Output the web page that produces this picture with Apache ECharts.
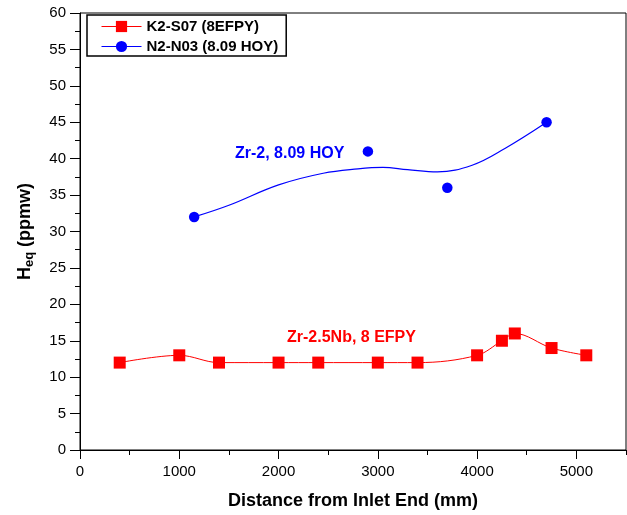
<!DOCTYPE html>
<html>
<head>
<meta charset="utf-8">
<script src="https://cdn.jsdelivr.net/npm/echarts@6/dist/echarts.min.js"></script>
<style>
html,body{margin:0;padding:0;background:#fff;}
#c{width:627px;height:515px;}
</style>
</head>
<body>
<div id="c"></div>
<script>
// Data
var redName = 'K2-S07 (8EFPY)';
var redX = [400, 1000, 1400, 2000, 2400, 3000, 3400, 4000, 4250, 4380, 4750, 5100];
var redY = [12, 13, 12, 12, 12, 12, 12, 13, 15, 16, 14, 13];

var blueName = 'N2-N03 (8.09 HOY)';
var blueX = [1150, 2900, 3700, 4700];
var blueY = [32, 41, 36, 45];

// Fitted (B-spline) curve of the blue series
var blueFitX = [1150, 1500, 2000, 2450, 2800, 3050, 3300, 3600, 3950, 4280, 4700];
var blueFitY = [32, 33.6, 36.4, 38.0, 38.6, 38.8, 38.5, 38.2, 39.1, 41.4, 45];

// Tick values
var xMajorTicks = [0, 1000, 2000, 3000, 4000, 5000];
var xMinorTicks = [500, 1500, 2500, 3500, 4500, 5500];

var xTitle = 'Distance from Inlet End (mm)';
var noteBlue = 'Zr-2, 8.09 HOY';
var noteRed = 'Zr-2.5Nb, 8 EFPY';

function pairs(xs, ys) { return xs.map(function (x, i) { return [x, ys[i]]; }); }

var FONT = 'Liberation Sans, Arial, Helvetica, sans-serif';
var chart = echarts.init(document.getElementById('c'), null, {renderer: 'canvas'});
chart.setOption({
  animation: false,
  backgroundColor: '#fff',
  grid: {left: 80, right: 1, top: 13, bottom: 64, show: true, borderColor: '#000', borderWidth: 1},
  legend: {
    left: 87, top: 15, orient: 'vertical',
    borderColor: '#000', borderWidth: 1.5,
    padding: [4, 8, 2, 14],
    itemWidth: 40, itemHeight: 14, itemGap: 5,
    lineStyle: {width: 1},
    textStyle: {fontFamily: FONT, fontWeight: 'bold', fontSize: 15, color: '#000'},
    data: [{name: redName}, {name: blueName}]
  },
  xAxis: [{
    type: 'value', min: 0, max: 5500, interval: 500,
    axisLine: {lineStyle: {color: '#000', width: 1}},
    axisTick: {inside: false, length: 9, customValues: xMajorTicks, lineStyle: {color: '#000'}},
    splitLine: {show: false},
    axisLabel: {
      color: '#000', fontFamily: FONT, fontSize: 15, margin: 14, customValues: xMajorTicks,
      formatter: function (v) { return String(v); }
    },
    name: xTitle, nameLocation: 'middle', nameGap: 42,
    nameTextStyle: {fontFamily: FONT, fontWeight: 'bold', fontSize: 18, color: '#000'}
  }, {
    type: 'value', min: 0, max: 5500, interval: 500, position: 'bottom',
    axisLine: {show: false},
    axisTick: {show: true, length: 5, customValues: xMinorTicks, lineStyle: {color: '#000'}},
    axisLabel: {show: false},
    splitLine: {show: false}
  }],
  yAxis: {
    type: 'value', min: 0, max: 60, interval: 5,
    axisLine: {show: true, lineStyle: {color: '#000', width: 1}},
    axisTick: {show: true, length: 10, lineStyle: {color: '#000'}},
    minorTick: {show: true, splitNumber: 2, length: 5, lineStyle: {color: '#000'}},
    splitLine: {show: false},
    axisLabel: {color: '#000', fontFamily: FONT, fontSize: 15, margin: 14},
    name: '{h|H}{s|eq}{h| (ppmw)}', nameLocation: 'middle', nameGap: 44, nameRotate: 90,
    nameTextStyle: {
      color: '#000',
      rich: {
        h: {fontFamily: FONT, fontWeight: 'bold', fontSize: 18, color: '#000', lineHeight: 22},
        s: {fontFamily: FONT, fontWeight: 'bold', fontSize: 13, color: '#000', lineHeight: 22, verticalAlign: 'bottom', padding: [9, 0, 0, 0]}
      }
    }
  },
  series: [
    {
      name: redName, type: 'line', data: pairs(redX, redY), smooth: 0.35,
      symbol: 'rect', symbolSize: 12,
      itemStyle: {color: '#ff0000'}, lineStyle: {color: '#ff0000', width: 1}, z: 3
    },
    {
      name: 'blueFit', type: 'line', data: pairs(blueFitX, blueFitY), smooth: 0.4,
      showSymbol: false, symbol: 'none', silent: true,
      lineStyle: {color: '#0000ff', width: 1.2}, z: 2
    },
    {
      name: blueName, type: 'line', data: pairs(blueX, blueY),
      symbol: 'circle', symbolSize: 10.5,
      itemStyle: {color: '#0000ff'}, lineStyle: {color: '#0000ff', width: 0}, z: 3
    }
  ],
  graphic: [
    {type: 'text', left: 235, top: 146, style: {text: noteBlue, fill: '#0000ff', font: 'bold 16px ' + FONT}},
    {type: 'text', left: 287, top: 330, style: {text: noteRed, fill: '#ff0000', font: 'bold 16px ' + FONT}}
  ]
});
</script>
</body>
</html>
